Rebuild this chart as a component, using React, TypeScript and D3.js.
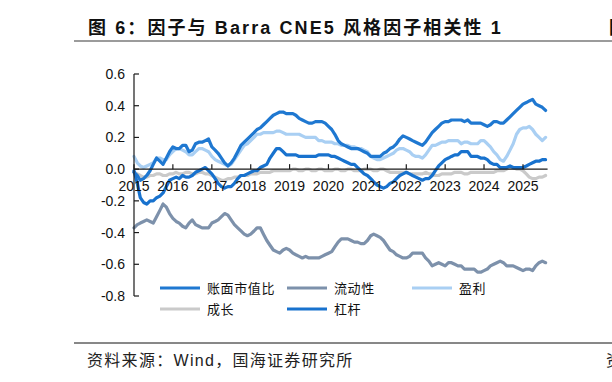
import React from 'react';
import * as d3 from 'd3';

// Monthly observations, Jan 2015 – Aug 2025
const months: Date[] = d3.timeMonth.range(new Date(2015, 0, 1), new Date(2025, 8, 1));
const yearLabels = ['2015', '2016', '2017', '2018', '2019', '2020', '2021', '2022', '2023', '2024', '2025'];
const yTickValues = [0.6, 0.4, 0.2, 0.0, -0.2, -0.4, -0.6, -0.8];

const bookToPrice = [
  -0.02, -0.04, -0.07, -0.06, -0.04, -0.01, 0.03, 0.07, 0.05, 0.03, 0.07, 0.11,
  0.14, 0.13, 0.13, 0.15, 0.15, 0.11, 0.12, 0.16, 0.17, 0.17, 0.18, 0.19,
  0.14, 0.12, 0.10, 0.07, 0.04, 0.02, 0.04, 0.07, 0.11, 0.15, 0.17, 0.19,
  0.21, 0.23, 0.25, 0.26, 0.28, 0.30, 0.32, 0.34, 0.35, 0.36, 0.36, 0.35,
  0.35, 0.35, 0.34, 0.32, 0.31, 0.30, 0.29, 0.29, 0.30, 0.30, 0.30, 0.29,
  0.27, 0.25, 0.22, 0.18, 0.16, 0.15, 0.14, 0.13, 0.13, 0.13, 0.12, 0.11,
  0.10, 0.08, 0.08, 0.08, 0.08, 0.10, 0.11, 0.13, 0.14, 0.16, 0.19, 0.21,
  0.20, 0.19, 0.18, 0.17, 0.16, 0.15, 0.17, 0.20, 0.23, 0.25, 0.27, 0.29,
  0.30, 0.30, 0.31, 0.31, 0.31, 0.31, 0.30, 0.31, 0.29, 0.29, 0.29, 0.29,
  0.28, 0.27, 0.28, 0.30, 0.30, 0.29, 0.29, 0.31, 0.33, 0.35, 0.37, 0.39,
  0.41, 0.42, 0.43, 0.44, 0.41, 0.40, 0.39, 0.37,
];

const liquidity = [
  -0.37, -0.35, -0.34, -0.33, -0.32, -0.33, -0.34, -0.30, -0.26, -0.22, -0.24, -0.28,
  -0.31, -0.33, -0.34, -0.36, -0.37, -0.34, -0.32, -0.35, -0.36, -0.37, -0.37, -0.37,
  -0.34, -0.33, -0.32, -0.30, -0.28, -0.29, -0.32, -0.35, -0.37, -0.39, -0.41, -0.42,
  -0.41, -0.39, -0.37, -0.37, -0.41, -0.45, -0.48, -0.51, -0.52, -0.53, -0.51, -0.50,
  -0.51, -0.53, -0.54, -0.55, -0.56, -0.55, -0.56, -0.56, -0.56, -0.56, -0.55, -0.54,
  -0.53, -0.52, -0.49, -0.46, -0.44, -0.44, -0.44, -0.45, -0.46, -0.46, -0.47, -0.47,
  -0.45, -0.42, -0.41, -0.42, -0.43, -0.45, -0.48, -0.51, -0.52, -0.54, -0.55, -0.56,
  -0.56, -0.55, -0.53, -0.53, -0.53, -0.53, -0.56, -0.58, -0.61, -0.60, -0.59, -0.60,
  -0.61, -0.59, -0.59, -0.60, -0.61, -0.61, -0.63, -0.63, -0.63, -0.63, -0.65, -0.65,
  -0.64, -0.63, -0.61, -0.60, -0.59, -0.58, -0.59, -0.61, -0.61, -0.61, -0.62, -0.63,
  -0.64, -0.63, -0.63, -0.64, -0.61, -0.59, -0.58, -0.59,
];

const earnings = [
  0.08, 0.04, 0.02, 0.01, 0.02, 0.03, 0.04, 0.07, 0.07, 0.06, 0.06, 0.09,
  0.11, 0.13, 0.13, 0.12, 0.11, 0.09, 0.09, 0.11, 0.13, 0.13, 0.12, 0.11,
  0.08, 0.06, 0.05, 0.04, 0.03, 0.02, 0.03, 0.06, 0.09, 0.12, 0.15, 0.16,
  0.18, 0.20, 0.22, 0.22, 0.23, 0.23, 0.23, 0.23, 0.24, 0.24, 0.23, 0.22,
  0.22, 0.22, 0.22, 0.22, 0.21, 0.20, 0.20, 0.20, 0.20, 0.18, 0.18, 0.17,
  0.17, 0.17, 0.16, 0.16, 0.15, 0.15, 0.15, 0.14, 0.14, 0.13, 0.13, 0.12,
  0.11, 0.08, 0.07, 0.06, 0.06, 0.07, 0.08, 0.09, 0.10, 0.12, 0.13, 0.13,
  0.12, 0.11, 0.09, 0.08, 0.08, 0.07, 0.09, 0.12, 0.15, 0.15, 0.16, 0.17,
  0.17, 0.18, 0.18, 0.18, 0.18, 0.16, 0.17, 0.17, 0.16, 0.16, 0.16, 0.18,
  0.18, 0.16, 0.14, 0.11, 0.09, 0.06, 0.05, 0.08, 0.12, 0.16, 0.22, 0.25,
  0.26, 0.26, 0.27, 0.25, 0.22, 0.20, 0.18, 0.20,
];

const growth = [
  -0.02, -0.03, -0.04, -0.05, -0.05, -0.04, -0.04, -0.03, -0.03, -0.04, -0.04, -0.03,
  -0.03, -0.02, -0.03, -0.03, -0.02, -0.02, -0.03, -0.03, -0.02, -0.02, -0.03, -0.03,
  -0.04, -0.05, -0.06, -0.07, -0.07, -0.06, -0.06, -0.05, -0.05, -0.04, -0.04, -0.04,
  -0.03, -0.03, -0.03, -0.02, -0.02, -0.02, -0.02, -0.01, -0.01, -0.01, -0.01, -0.01,
  -0.01, 0.0, 0.0, -0.01, -0.01, 0.0, 0.0, -0.01, -0.01, 0.0, 0.0, -0.01,
  -0.01, -0.01, 0.0, 0.0, -0.01, -0.01, 0.0, 0.0, -0.01, -0.01, -0.01, 0.0,
  0.0, 0.0, -0.01, -0.01, 0.0, 0.0, -0.01, -0.02, -0.02, -0.02, -0.02, -0.02,
  -0.02, -0.03, -0.03, -0.03, -0.03, -0.03, -0.02, -0.03, -0.03, -0.04, -0.04, -0.03,
  -0.03, -0.03, -0.03, -0.02, -0.02, -0.02, -0.03, -0.03, -0.02, -0.02, -0.02, -0.02,
  -0.02, -0.02, -0.02, -0.02, -0.01, -0.01, -0.01, 0.0, 0.01, 0.01, 0.0, 0.0,
  -0.01, -0.03, -0.05, -0.06, -0.06, -0.05, -0.05, -0.04,
];

const leverage = [
  -0.01, -0.09, -0.18, -0.21, -0.22, -0.20, -0.20, -0.18, -0.17, -0.15, -0.11, -0.07,
  -0.06, -0.05, -0.06, -0.04, -0.05, -0.05, -0.04, -0.02, -0.01, 0.0, 0.01, -0.01,
  -0.03, -0.06, -0.09, -0.11, -0.12, -0.11, -0.11, -0.09, -0.06, -0.04, -0.04, -0.03,
  -0.02, -0.01, -0.01, 0.01, 0.02, 0.03, 0.07, 0.10, 0.13, 0.13, 0.11, 0.09,
  0.09, 0.09, 0.09, 0.08, 0.08, 0.08, 0.08, 0.08, 0.08, 0.09, 0.09, 0.09,
  0.09, 0.08, 0.08, 0.07, 0.06, 0.05, 0.04, 0.03, 0.03, 0.01, -0.01, -0.03,
  -0.04, -0.06, -0.08, -0.10, -0.11, -0.12, -0.11, -0.09, -0.08, -0.06, -0.04, -0.03,
  -0.02, -0.03, -0.04, -0.05, -0.06, -0.07, -0.06, -0.06, -0.04, -0.01, 0.02, 0.04,
  0.06, 0.07, 0.08, 0.09, 0.09, 0.11, 0.11, 0.11, 0.08, 0.08, 0.08, 0.07,
  0.07, 0.06, 0.04, 0.03, 0.03, 0.01, 0.01, 0.01, 0.02, 0.01, 0.01, 0.01,
  0.01, 0.02, 0.03, 0.04, 0.05, 0.05, 0.06, 0.06,
];

const seriesNames = ['账面市值比', '流动性', '盈利', '成长', '杠杆'];
const seriesColors = ['#1F78D1', '#7D91AB', '#A9CFF3', '#CACACA', '#1872CE'];
const seriesValues = [bookToPrice, liquidity, earnings, growth, leverage];
const drawOrder = [1, 3, 2, 0, 4];

const W = 612;
const H = 382;
const latin = "'Liberation Sans', Arial, 'Noto Sans CJK SC', sans-serif";
const cjk = "'Noto Sans CJK SC', 'Liberation Sans', sans-serif";

export default function App() {
  const x = d3
    .scaleTime()
    .domain([new Date(2015, 0, 1), new Date(2025, 0, 1)])
    .range([134, 523]);
  const y = d3.scaleLinear().domain([-0.8, 0.6]).range([296, 74]);
  const line = d3
    .line<number>()
    .x((_, i) => x(months[i]))
    .y((d) => y(d))
    .curve(d3.curveLinear);

  const yearDates = yearLabels.map((l) => new Date(+l, 0, 1));
  const x0 = x.range()[0];
  const xEnd = x(months[months.length - 1]) + 2;

  const legendCols = [160, 287, 412];
  const legendRows = [288, 309];

  return (
    <div style={{ position: 'absolute', left: 0, top: 0 }}>
      <svg width={W} height={H} style={{ display: 'block', background: '#fff' }}>
        {/* title */}
        <text x={88} y={34} fontFamily={latin} fontWeight={700} fontSize={18} letterSpacing={2.1} fill="#111">
          图 6：因子与 Barra CNE5 风格因子相关性 1
        </text>
        <text x={609} y={34} fontFamily={latin} fontWeight={700} fontSize={18} fill="#111">
          图
        </text>
        <line x1={74} x2={612} y1={41} y2={41} stroke="#7a7a7a" strokeWidth={1.6} />

        {/* series */}
        {drawOrder.map((k) => (
          <path
            key={seriesNames[k]}
            d={line(seriesValues[k]) || ''}
            fill="none"
            stroke={seriesColors[k]}
            strokeWidth={3.2}
            strokeLinejoin="round"
            strokeLinecap="round"
          />
        ))}

        {/* y axis */}
        <line x1={x0} x2={x0} y1={y(0.6)} y2={y(-0.8)} stroke="#1a1a1a" strokeWidth={1.2} />
        {yTickValues.map((v) => (
          <g key={v}>
            <line x1={x0} x2={x0 + 5} y1={y(v)} y2={y(v)} stroke="#1a1a1a" strokeWidth={1.2} />
            <text
              x={125}
              y={y(v)}
              dy="0.36em"
              textAnchor="end"
              fontFamily={latin}
              fontSize={14}
              fill="#111"
            >
              {v.toFixed(1)}
            </text>
          </g>
        ))}

        {/* x axis at zero */}
        <line x1={x0} x2={xEnd} y1={y(0)} y2={y(0)} stroke="#1a1a1a" strokeWidth={1.2} />
        {yearDates.map((d, i) => (
          <g key={yearLabels[i]}>
            <line x1={x(d)} x2={x(d)} y1={y(0)} y2={y(0) - 5} stroke="#1a1a1a" strokeWidth={1.2} />
            <text x={x(d)} y={191} textAnchor="middle" fontFamily={latin} fontSize={14} fill="#111">
              {yearLabels[i]}
            </text>
          </g>
        ))}

        {/* legend */}
        {seriesNames.map((name, k) => {
          const col = k % 3;
          const row = Math.floor(k / 3);
          const lx = legendCols[col];
          const ly = legendRows[row];
          return (
            <g key={name}>
              <line x1={lx} x2={lx + 40} y1={ly} y2={ly} stroke={seriesColors[k]} strokeWidth={3} />
              <text
                x={lx + 47}
                y={ly}
                dy="0.36em"
                fontFamily={cjk}
                fontSize={13}
                letterSpacing={0.6}
                fill="#111"
              >
                {name}
              </text>
            </g>
          );
        })}

        {/* source */}
        <line x1={74} x2={612} y1={343} y2={343} stroke="#111" strokeWidth={1} />
        <text x={87} y={366} fontFamily={latin} fontSize={16} letterSpacing={1.3} fill="#222">
          资料来源：Wind，国海证券研究所
        </text>
        <text x={606} y={366} fontFamily={latin} fontSize={16} fill="#222">
          资
        </text>
      </svg>
    </div>
  );
}
